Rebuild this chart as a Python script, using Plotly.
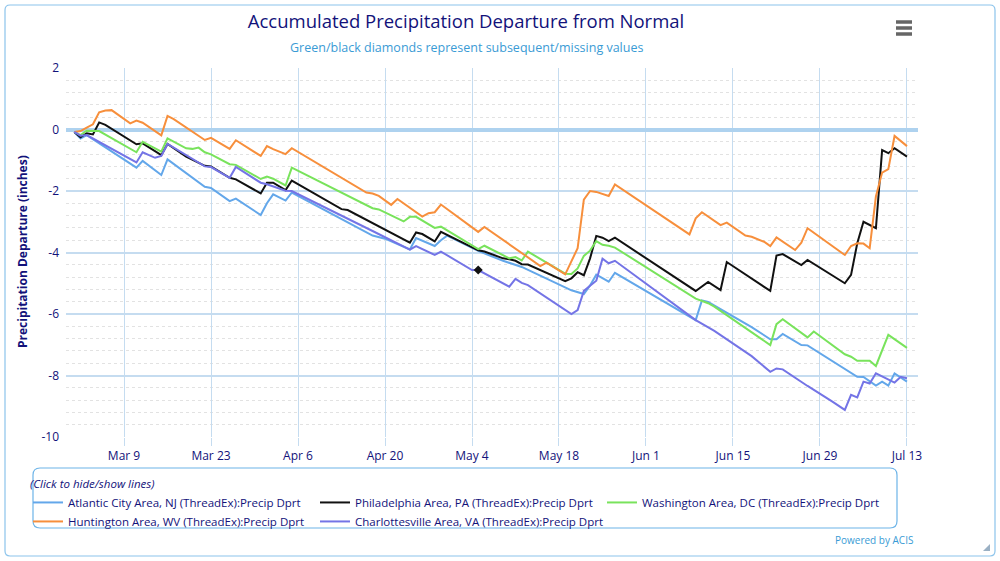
import pandas as pd
import plotly.graph_objects as go

# ---------------- data (day offsets from Mar 1, departure in inches) ----------------
BASE = "2020-03-01"

ac_days = [0,1,2,10,11,14,15,21,22,25,26,30,31,32,34,35,48,50,54,55,58,59,60,65,69,72,80,82,83,84,
           86,87,100,101,102,109,112,113,114,117,118,126,127,128,129,130,131,132,133,134]
ac_vals = [-0.08,-0.29,-0.18,-1.24,-1.02,-1.48,-0.97,-1.86,-1.9,-2.33,-2.25,-2.78,-2.4,-2.11,-2.31,-2.05,
           -3.45,-3.55,-3.9,-3.53,-3.79,-3.6,-3.45,-3.95,-4.27,-4.47,-5.23,-5.35,-5.07,-4.72,-4.95,-4.66,
           -6.2,-5.56,-5.61,-6.43,-6.82,-6.82,-6.65,-7.01,-7.02,-8.04,-8.05,-8.2,-8.33,-8.2,-8.33,-7.93,-8.06,-8.2]

hu_days = [0,1,2,3,4,5,6,9,10,11,14,15,16,21,22,25,26,30,31,32,34,35,47,48,49,51,52,56,57,58,59,65,66,
           75,76,79,81,82,83,84,86,87,99,100,101,104,105,108,109,111,112,113,116,117,118,124,125,126,
           127,128,129,130,131,132,134]
hu_vals = [-0.08,-0.05,0.06,0.17,0.56,0.62,0.63,0.2,0.29,0.22,-0.19,0.44,0.34,-0.34,-0.27,-0.63,-0.35,
           -0.86,-0.54,-0.64,-0.8,-0.61,-2.05,-2.08,-2.16,-2.45,-2.26,-2.83,-2.72,-2.69,-2.44,-3.33,-3.17,
           -4.44,-4.33,-4.71,-3.86,-2.28,-2.0,-2.03,-2.16,-1.79,-3.41,-2.89,-2.69,-3.11,-3.03,-3.45,-3.49,
           -3.65,-3.79,-3.51,-3.92,-3.68,-3.21,-4.08,-3.79,-3.7,-3.71,-3.86,-2.18,-1.4,-1.29,-0.21,-0.54]

ph_days = [0,1,2,3,4,5,10,11,14,15,18,21,22,25,26,30,31,32,34,35,43,44,54,55,56,58,59,65,66,69,70,71,
           72,73,79,80,81,82,83,84,85,86,87,100,102,104,105,112,113,114,117,118,124,125,126,127,129,130,
           131,132,134]
ph_vals = [-0.08,-0.25,-0.12,-0.16,0.23,0.15,-0.48,-0.45,-0.83,-0.47,-0.88,-1.18,-1.2,-1.57,-1.62,-2.08,
           -1.73,-1.73,-1.97,-1.66,-2.59,-2.62,-3.68,-3.35,-3.4,-3.64,-3.33,-3.93,-3.97,-4.19,-4.22,-4.27,
           -4.38,-4.39,-4.93,-4.84,-4.64,-4.74,-4.19,-3.46,-3.52,-3.63,-3.52,-5.25,-4.96,-5.22,-4.31,-5.25,
           -4.1,-4.05,-4.41,-4.24,-5.0,-4.73,-3.7,-3.0,-3.21,-0.67,-0.77,-0.61,-0.88]

wa_days = [0,1,2,4,10,11,14,15,18,19,20,21,22,25,26,30,31,32,34,35,48,49,53,54,55,58,59,65,66,70,71,72,
           73,79,80,81,82,83,84,85,86,87,100,101,102,103,112,113,114,118,119,124,125,126,128,129,131,134]
wa_vals = [-0.08,-0.18,-0.04,-0.05,-0.74,-0.4,-0.72,-0.29,-0.61,-0.63,-0.59,-0.74,-0.81,-1.13,-1.15,-1.61,
           -1.53,-1.6,-1.82,-1.24,-2.56,-2.6,-2.99,-2.84,-2.84,-3.2,-3.16,-3.89,-3.78,-4.19,-4.15,-4.26,
           -3.97,-4.69,-4.7,-4.52,-4.11,-3.94,-3.63,-3.75,-3.78,-3.84,-5.5,-5.57,-5.65,-5.76,-7.01,-6.33,
           -6.17,-6.76,-6.57,-7.31,-7.39,-7.52,-7.52,-7.69,-6.68,-7.1]

ch_days = [0,1,2,10,11,13,14,15,21,22,25,26,30,31,34,35,48,54,55,58,59,64,65,70,71,72,73,80,81,82,83,84,
           85,86,87,100,103,109,112,113,114,118,122,124,125,126,127,128,129,132,133,134]
ch_vals = [-0.08,-0.2,-0.18,-1.07,-0.74,-0.92,-0.86,-0.47,-1.2,-1.22,-1.57,-1.22,-1.73,-1.78,-1.99,-2.0,
           -3.3,-3.91,-3.79,-4.08,-3.97,-4.57,-4.57,-5.11,-4.86,-4.99,-5.06,-6.0,-5.87,-5.25,-5.08,-4.92,
           -4.2,-4.35,-4.27,-6.2,-6.55,-7.37,-7.88,-7.77,-7.8,-8.34,-8.85,-9.12,-8.63,-8.71,-8.2,-8.26,
           -7.93,-8.23,-8.04,-8.09]

missing_days = [65]
missing_vals = [-4.57]

series_names = [
    "Atlantic City Area, NJ (ThreadEx):Precip Dprt",
    "Philadelphia Area, PA (ThreadEx):Precip Dprt",
    "Washington Area, DC (ThreadEx):Precip Dprt",
    "Huntington Area, WV (ThreadEx):Precip Dprt",
    "Charlottesville Area, VA (ThreadEx):Precip Dprt",
]
y_tick_vals = [2, 0, -2, -4, -6, -8, -10]
y_tick_text = ["2", "0", "-2", "-4", "-6", "-8", "-10"]

# ---------------- styling ----------------
base = pd.Timestamp(BASE)
def to_dates(days):
    return [base + pd.Timedelta(days=d) for d in days]

W, H = 1000, 561
PL, PR, PT, PB = 66, 918, 68, 437  # plot area pixels
def px(x):
    return (x - PL) / (PR - PL)
def py(y):
    return (PB - y) / (PB - PT)

NAVY = "#12127a"
FONT = "Open Sans"
GRID = "#c5dcf0"

colors = {
    series_names[0]: "#63a7ea",
    series_names[1]: "#111111",
    series_names[2]: "#79e35c",
    series_names[3]: "#f78f3c",
    series_names[4]: "#7474e6",
}
data = {
    series_names[0]: (ac_days, ac_vals),
    series_names[1]: (ph_days, ph_vals),
    series_names[2]: (wa_days, wa_vals),
    series_names[3]: (hu_days, hu_vals),
    series_names[4]: (ch_days, ch_vals),
}

fig = go.Figure()
for name in series_names:
    d, v = data[name]
    fig.add_trace(go.Scatter(x=to_dates(d), y=v, mode="lines", name=name,
                             line=dict(color=colors[name], width=2)))

fig.add_trace(go.Scatter(x=to_dates(missing_days), y=missing_vals, mode="markers",
                         marker=dict(symbol="diamond", size=7, color="#111111"),
                         showlegend=False, hoverinfo="skip"))

x0 = base + pd.Timedelta(days=(PL - 74.3) / 6.214)
x1 = base + pd.Timedelta(days=(PR - 74.3) / 6.214)

fig.update_xaxes(
    range=[x0, x1], type="date",
    tick0=base + pd.Timedelta(days=8), dtick=14 * 86400000, tickformat="%b %-d",
    showgrid=True, gridcolor=GRID, gridwidth=1,
    ticks="outside", ticklen=8, tickcolor=GRID,
    showline=False, zeroline=False,
    tickfont=dict(family=FONT, size=12, color=NAVY),
)
fig.update_yaxes(
    range=[-10, 2], tickvals=y_tick_vals, ticktext=y_tick_text,
    showgrid=True, gridcolor=GRID, gridwidth=1.5,
    zeroline=True, zerolinecolor="#aed2ef", zerolinewidth=3.5,
    minor=dict(dtick=0.4, tick0=0, showgrid=True, gridcolor="#e2e2e2", griddash="dot", gridwidth=1),
    ticks="", ticklabelstandoff=6,
    tickfont=dict(family=FONT, size=12, color=NAVY),
)

shapes = []
def rounded_rect(xa, ya, xb, yb, r, color, width):
    pts = (f"M {px(xa+r)},{py(ya)} L {px(xb-r)},{py(ya)} Q {px(xb)},{py(ya)} {px(xb)},{py(ya+r)} "
           f"L {px(xb)},{py(yb-r)} Q {px(xb)},{py(yb)} {px(xb-r)},{py(yb)} "
           f"L {px(xa+r)},{py(yb)} Q {px(xa)},{py(yb)} {px(xa)},{py(yb-r)} "
           f"L {px(xa)},{py(ya+r)} Q {px(xa)},{py(ya)} {px(xa+r)},{py(ya)} Z")
    return dict(type="path", xref="paper", yref="paper", path=pts,
                line=dict(color=color, width=width), layer="below")

shapes.append(rounded_rect(5, 5, 995, 556, 5, "#8cc4ec", 1.2))
shapes.append(rounded_rect(33, 468, 897, 528, 7, "#6db4e8", 1.2))
# hamburger menu icon
for yy in (22, 28, 34):
    shapes.append(dict(type="line", xref="paper", yref="paper",
                       x0=px(896), x1=px(912), y0=py(yy), y1=py(yy),
                       line=dict(color="#666666", width=3.5)))
# resize handle
shapes.append(dict(type="path", xref="paper", yref="paper",
                   path=f"M {px(990)},{py(544)} L {px(990)},{py(551)} L {px(983)},{py(551)} Z",
                   fillcolor="#9ab0c4", line=dict(width=0)))

annotations = [
    dict(text="Green/black diamonds represent subsequent/missing values", xref="paper", yref="paper",
         x=px(466), y=py(48), showarrow=False, xanchor="center", yanchor="middle",
         font=dict(family=FONT, size=12.5, color="#3a9bd5")),
    dict(text="<b>Precipitation Departure (inches)</b>", xref="paper", yref="paper",
         x=px(22), y=py(252), showarrow=False, textangle=-90, xanchor="center", yanchor="middle",
         font=dict(family=FONT, size=12, color=NAVY)),
    dict(text="Powered by ACIS", xref="paper", yref="paper",
         x=px(915), y=py(540), showarrow=False, xanchor="right", yanchor="middle",
         font=dict(family=FONT, size=10, color="#3a9bd5")),
]

fig.update_layout(
    width=W, height=H,
    margin=dict(l=PL, r=W - PR, t=PT, b=H - PB, pad=0, autoexpand=False),
    paper_bgcolor="white", plot_bgcolor="white",
    title=dict(text="Accumulated Precipitation Departure from Normal", x=0.466, xref="container",
               xanchor="center", y=1 - 22 / H, yref="container", yanchor="middle",
               font=dict(family=FONT, size=18.5, color=NAVY)),
    shapes=shapes, annotations=annotations,
    legend=dict(
        orientation="h", xref="paper", yref="paper",
        x=px(28), y=py(473), xanchor="left", yanchor="top",
        entrywidth=242, entrywidthmode="pixels", itemwidth=30,
        bgcolor="rgba(0,0,0,0)", borderwidth=0,
        font=dict(family=FONT, size=11.5, color=NAVY),
        title=dict(text="<i>(Click to hide/show lines)</i>", side="top",
                   font=dict(family=FONT, size=11.5, color=NAVY)),
        tracegroupgap=0,
    ),
    showlegend=True,
    hovermode="x",
)

fig.write_html("out.html")
